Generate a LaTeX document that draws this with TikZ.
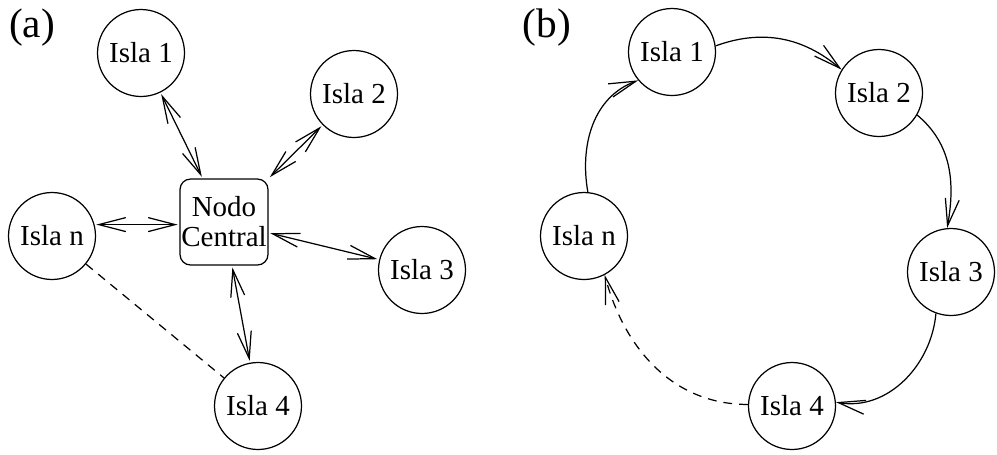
\documentclass[tikz,border=0pt]{standalone}
\usepackage{fontspec}
\setmainfont{Liberation Serif}
\usetikzlibrary{arrows.meta}
\tikzset{
  isla/.style={draw, circle, minimum size=1.74cm, inner sep=0pt, line width=0.7pt, font=\fontsize{16.5}{18}\selectfont},
  central/.style={draw, rounded corners=6pt, minimum width=1.76cm, minimum height=1.72cm, inner sep=0pt, line width=0.7pt, align=center, font=\fontsize{16.5}{17}\selectfont},
  tip/.tip={Straight Barb[length=5.4mm, width=2.8mm, line width=0.7pt]},
  link/.style={line width=0.7pt, shorten <=1pt, shorten >=1pt, {tip}-{tip}},
  flow/.style={line width=0.7pt, -{tip}},
  longdash/.style={dash pattern=on 5pt off 4pt},
  tag/.style={font=\fontsize{23.5}{26}\selectfont}
}
\begin{document}
\begin{tikzpicture}[x=0.02cm, y=-0.02cm]
  \useasboundingbox (0,0) rectangle (997,454);
  % (a) star
  \node[tag] (ta) at (32,28) {(a)};
  \node[isla] (a1) at (141,53) {Isla 1};
  \node[isla] (a2) at (354,94) {Isla 2};
  \node[isla] (a3) at (422,270) {Isla 3};
  \node[isla] (a4) at (258,406) {Isla 4};
  \node[isla] (an) at (52,236) {Isla n};
  \node[central] (nc) at (224,222) {Nodo\\Central};
  \draw[link] (a1) -- (nc);
  \draw[link] (a2) -- (nc.north east);
  \draw[link] (an.15) -- (nc.west |- an.15);
  \draw[link] (nc) -- (a3);
  \draw[link] (nc) -- (a4);
  \draw[line width=0.7pt, longdash] (an) -- (a4);
  % (b) ring
  \node[tag] (tb) at (547,28) {(b)};
  \node[isla] (b1) at (672,52) {Isla 1};
  \node[isla] (b2) at (879,93) {Isla 2};
  \node[isla] (b3) at (951,272) {Isla 3};
  \node[isla] (b4) at (792,406) {Isla 4};
  \node[isla] (bn) at (584,236) {Isla n};
  \draw[flow] (b1.8) to[out=20, in=140] (b2.148);
  \draw[flow] (b2.-30) to[out=-40, in=80] (b3.95);
  \draw[flow] (b3.-110) to[out=-95, in=-10] (b4.5);
  \draw[flow, longdash] (b4.178) to[out=180, in=-75] (bn.-62);
  \draw[flow] (bn.85) to[out=100, in=200] (b1.220);
\end{tikzpicture}
\end{document}
